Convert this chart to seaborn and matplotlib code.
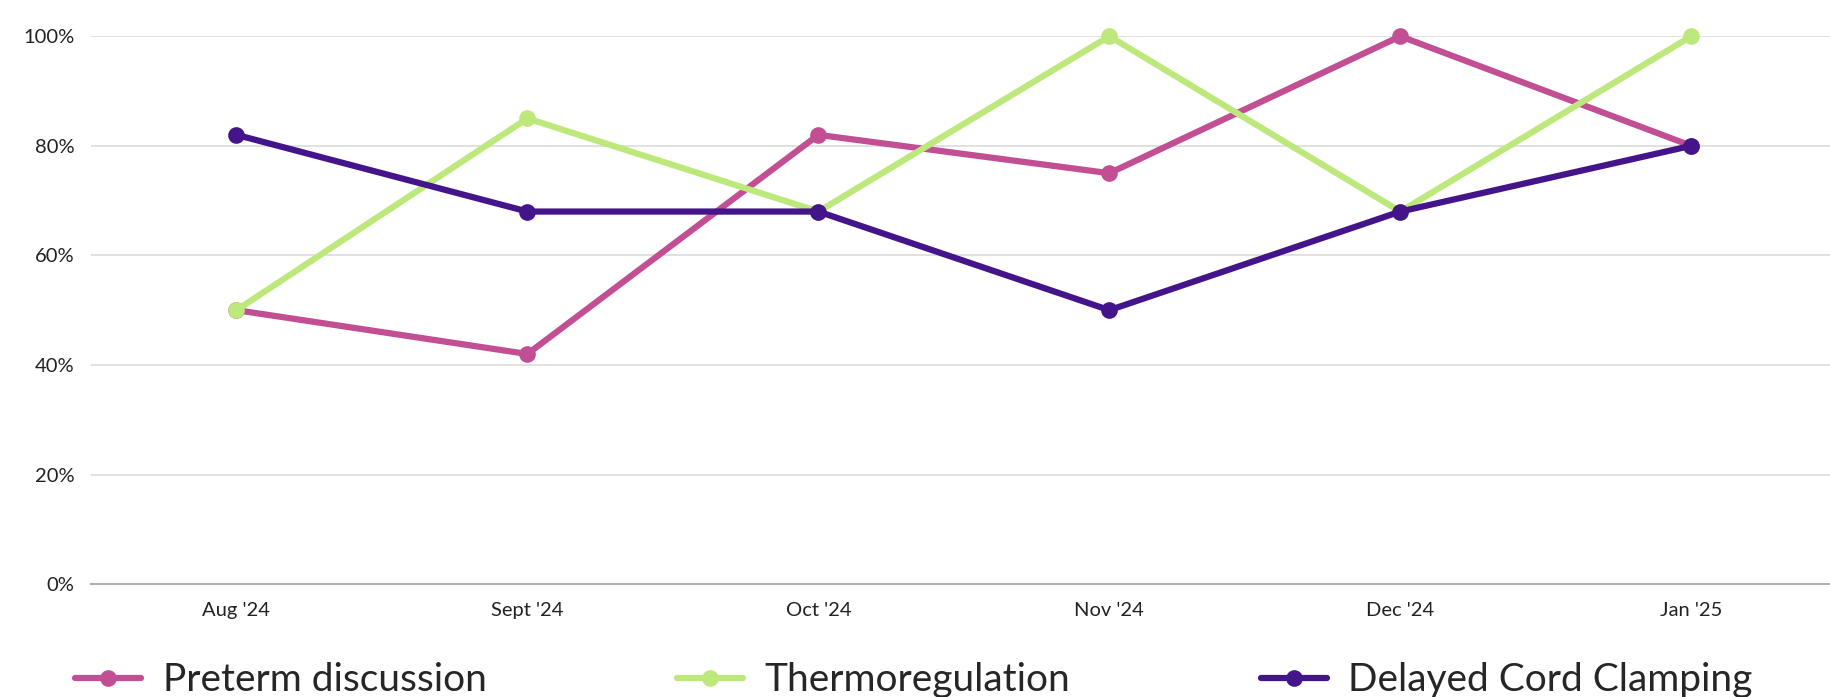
import numpy as np
import pandas as pd
import matplotlib
matplotlib.use("Agg")
import matplotlib.pyplot as plt
import seaborn as sns
from matplotlib.ticker import PercentFormatter

months = ["Aug '24", "Sept '24", "Oct '24", "Nov '24", "Dec '24", "Jan '25"]
preterm = [50, 42, 82, 75, 100, 80]
thermo = [50, 85, 68, 100, 68, 100]
delayed = [82, 68, 68, 50, 68, 80]

series_names = ["Preterm discussion", "Thermoregulation", "Delayed Cord Clamping"]
colors = ["#C24F93", "#BDE87B", "#43148A"]

df = pd.DataFrame({
    "month": months * 3,
    "idx": list(range(len(months))) * 3,
    "value": preterm + thermo + delayed,
    "series": np.repeat(series_names, len(months)),
})

sns.set_style("white")
plt.rcParams['font.family'] = ['Lato', 'DejaVu Sans']

fig = plt.figure(figsize=(18.3, 6.97), dpi=100)
ax = fig.add_axes([0.0497, 0.162, 0.954, 0.786])

sns.lineplot(data=df, x="idx", y="value", hue="series", hue_order=series_names,
             palette=colors, marker="o", markersize=12, markeredgewidth=0,
             linewidth=4.5, ax=ax, clip_on=False, zorder=3)

ax.set_xlim(-0.5, 5.5)
ax.set_ylim(0, 100)
ax.set_xticks(range(len(months)))
ax.set_xticklabels(months)
ax.set_yticks([0, 20, 40, 60, 80, 100])
ax.yaxis.set_major_formatter(PercentFormatter(decimals=0))
ax.tick_params(axis="both", length=0, labelsize=14.5, colors="#222222")
ax.tick_params(axis="x", pad=13)
ax.tick_params(axis="y", pad=12)
ax.set_xlabel("")
ax.set_ylabel("")

ax.grid(axis="y", color="#dcdcdc", linewidth=1.2)
ax.grid(axis="x", visible=False)
for s in ["top", "right", "left"]:
    ax.spines[s].set_visible(False)
ax.spines["bottom"].set_color("#b0b0b0")
ax.spines["bottom"].set_linewidth(1.5)
ax.set_axisbelow(True)

handles, labels = ax.get_legend_handles_labels()
ax.get_legend().remove()
fig.legend(handles, labels, loc="center left", bbox_to_anchor=(0.041, 0.024),
           ncol=3, frameon=False, fontsize=28, handlelength=1.7,
           handletextpad=0.55, columnspacing=4.9, borderpad=0, borderaxespad=0)

fig.savefig("out.png", dpi=100)
